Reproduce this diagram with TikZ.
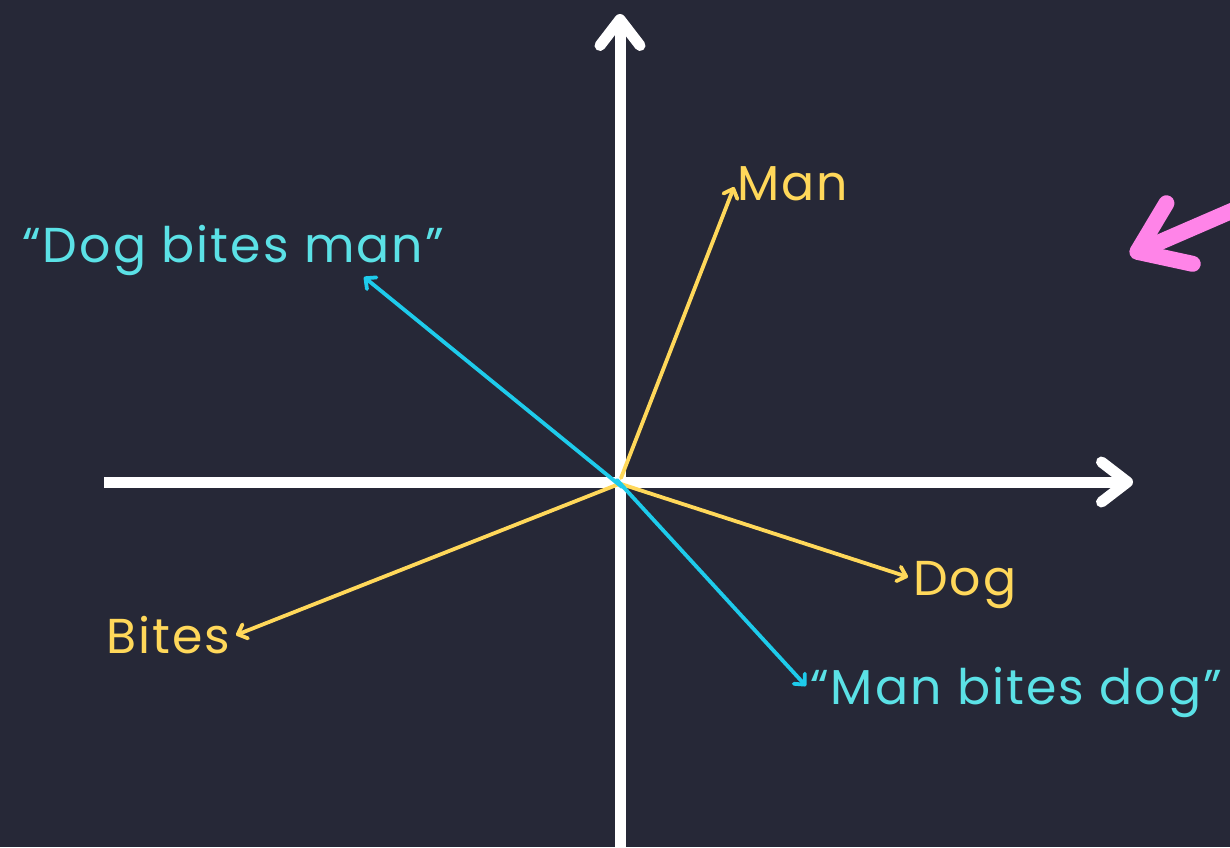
\documentclass[tikz,border=0pt]{standalone}
\usepackage{fontspec}
\setmainfont{Poppins}[LetterSpace=4.3]
\usetikzlibrary{arrows.meta}
\definecolor{bg}{HTML}{262837}
\definecolor{vyellow}{HTML}{FFD85A}
\definecolor{vcyan}{HTML}{1ECBEB}
\definecolor{tcyan}{HTML}{5BE1E6}
\definecolor{vpink}{HTML}{FF84E8}
\tikzset{
  axis/.style={white, line width=11pt, -{Straight Barb[length=26pt,width=40pt,round]}},
  vec/.style={line width=3.8pt, line cap=round, -{Straight Barb[length=8pt,width=15pt,round]}},
  yvec/.style={vec, vyellow},
  cvec/.style={vec, vcyan},
  ylab/.style={text=vyellow, font=\fontsize{49}{52}\selectfont, inner sep=0pt, anchor=base west},
  clab/.style={text=tcyan, font=\fontsize{49}{52}\selectfont, inner sep=0pt, anchor=base west},
  pinkarrow/.style={vpink, line width=16pt, -{Straight Barb[length=46pt,width=66pt,round]}}
}
\begin{document}
\begin{tikzpicture}[x=1pt,y=-1pt]
\useasboundingbox (0,0) rectangle (1230,847);
\fill[bg] (0,0) rectangle (1230,847);
% axes
\coordinate (vbot) at (620,860);
\coordinate (vtop) at (620,14);
\coordinate (hl) at (104,482);
\coordinate (hr) at (1133,482);
\draw[axis] (vbot) -- (vtop);
\draw[axis] (hl) -- (hr);
% labels
\node[ylab] (man) at (737,200) {Man};
\node[ylab] (dog) at (913,595) {Dog};
\node[ylab] (bites) at (106,653) {Bites};
\node[clab] (dbm) at (22,262) {“Dog bites man”};
\node[clab] (mbd) at (810,704) {“Man bites dog”};
% vector tips
\coordinate (o) at (620,482);
\coordinate (tman) at (734,187);
\coordinate (tdog) at (908,577);
\coordinate (tbites) at (236,635);
\coordinate (tdbm) at (364,277);
\coordinate (tmbd) at (806,686);
\draw[yvec] (621,478) -- (tman);
\draw[yvec] (621,484) -- (tdog);
\draw[yvec] (619,484) -- (tbites);
\draw[cvec] (622,487) -- (tdbm);
\draw[cvec] (617,480) -- (tmbd);
% pink arrow
\coordinate (pstart) at (1250,203);
\coordinate (ptip) at (1130,255);
\draw[pinkarrow] (pstart) -- (ptip);
\end{tikzpicture}
\end{document}
